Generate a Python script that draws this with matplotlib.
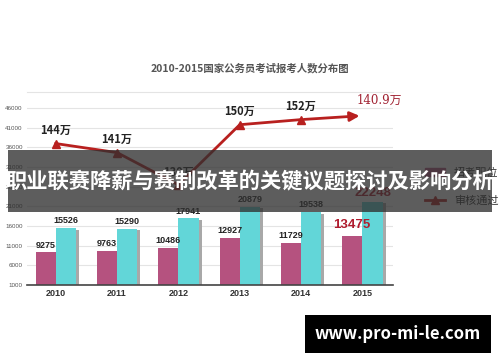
import matplotlib
matplotlib.use("Agg")
import matplotlib.pyplot as plt
from matplotlib.patches import Rectangle, Patch
from matplotlib.lines import Line2D
import numpy as np

plt.rcParams['font.family'] = ['Noto Sans CJK SC', 'DejaVu Sans']

# 数据
years = ["2010", "2011", "2012", "2013", "2014", "2015"]
positions = [9275, 9763, 10486, 12927, 11729, 13475]
applicants = [15526, 15290, 17941, 20879, 19538, 22248]
line_y = [37000, 34700, 26500, 41800, 43100, 44100]
line_labels = ["144万", "141万", "130万", "150万", "152万", "140.9万"]
yticks = [1000, 6000, 11000, 16000, 21000, 26000, 31000, 36000, 41000, 46000]

pink = "#b5527f"
cyan = "#62d6d8"
red = "#b8201f"

fig = plt.figure(figsize=(5, 3.62), dpi=100)
ax = fig.add_axes([0.054, 0.2127, 0.732, 0.5318])

x = np.arange(len(years))
w = 0.33

# 阴影
ax.bar(x + w / 2 + 0.05, np.array(applicants) - 400, w, bottom=0,
       color="#a8a8a8", zorder=1)
ax.bar(x - w / 2, positions, w, color=pink, zorder=2)
ax.bar(x + w / 2, applicants, w, color=cyan, zorder=2)

for i in range(len(years)):
    if i == len(years) - 1:
        ax.text(x[i] - w / 2, positions[i] + 1200, str(positions[i]),
                ha="center", va="bottom", fontsize=9.5, fontweight="bold",
                color="#b01c2e", family="Liberation Sans")
        ax.text(x[i] + w / 2, applicants[i] + 700, str(applicants[i]),
                ha="center", va="bottom", fontsize=9.5, fontweight="bold",
                color="#b01c2e", family="Liberation Sans")
    else:
        ax.text(x[i] - w / 2, positions[i] + 700, str(positions[i]),
                ha="center", va="bottom", fontsize=6.5, fontweight="bold",
                color="#222222", family="Liberation Sans")
        ax.text(x[i] + w / 2, applicants[i] + 700, str(applicants[i]),
                ha="center", va="bottom", fontsize=6.5, fontweight="bold",
                color="#222222", family="Liberation Sans")

# 折线
ax.plot(x[:5], line_y[:5], color=red, lw=2, marker="^", ms=6, zorder=4)
ax.annotate("", xy=(x[5], line_y[5]), xytext=(x[4], line_y[4]),
            arrowprops=dict(arrowstyle="-|>", color=red, lw=2,
                            mutation_scale=14), zorder=4)
for i in range(5):
    ax.text(x[i], line_y[i] + 1600, line_labels[i], ha="center",
            va="bottom", fontsize=8, fontweight="bold", color="#222222")
ax.text(x[5] + 0.28, line_y[5] + 2200, line_labels[5], ha="center",
        va="bottom", fontsize=8.5, color="#a02030",
        family=["DejaVu Serif", "Noto Sans CJK SC"])

ax.set_xlim(-0.47, 5.5)
ax.set_ylim(1000, 50000)
ax.set_yticks(yticks)
ax.set_yticklabels([str(v) for v in yticks], fontsize=4.5, color="#555555",
                   family="Liberation Sans")
ax.set_xticks(x)
ax.set_xticklabels(years, fontsize=6.5, fontweight="bold", color="#333333",
                   family="Liberation Sans")
ax.tick_params(length=0, pad=3)
ax.grid(axis="y", color="#e4e4e4", lw=0.8, zorder=0)
ax.set_axisbelow(True)
for s in ["left", "right"]:
    ax.spines[s].set_visible(False)
ax.spines["top"].set_color("#e4e4e4")
ax.spines["bottom"].set_color("#444444")
ax.spines["bottom"].set_linewidth(1.2)

handles = [Patch(color=pink),
           Line2D([0], [0], color=red, lw=2, marker="^", ms=6)]
ax.legend(handles, ["招考职位", "审核通过"], loc="upper left",
          bbox_to_anchor=(1.06, 0.66), frameon=False, fontsize=8,
          labelspacing=1.6, handlelength=1.8, labelcolor="#333333")

fig.text(0.5, 0.812, "2010-2015国家公务员考试报考人数分布图", ha="center",
         va="center", fontsize=7.5, fontweight="bold", color="#555555")

# 遮罩横幅
fig.patches.append(Rectangle((0.016, 0.413), 0.968, 0.173,
                             transform=fig.transFigure, facecolor="#2f2f2f",
                             alpha=0.78, zorder=10))
fig.text(0.5, 0.497, "职业联赛降薪与赛制改革的关键议题探讨及影响分析",
         ha="center", va="center", fontsize=15.3, fontweight="bold",
         color="white", zorder=11)

# 水印
fig.patches.append(Rectangle((0.61, 0.025), 0.372, 0.105,
                             transform=fig.transFigure, facecolor="black",
                             zorder=10))
fig.text(0.796, 0.077, "www.pro-mi-le.com", ha="center", va="center",
         fontsize=12, fontweight="bold", color="white", zorder=11)

fig.savefig("out.png", dpi=100)
